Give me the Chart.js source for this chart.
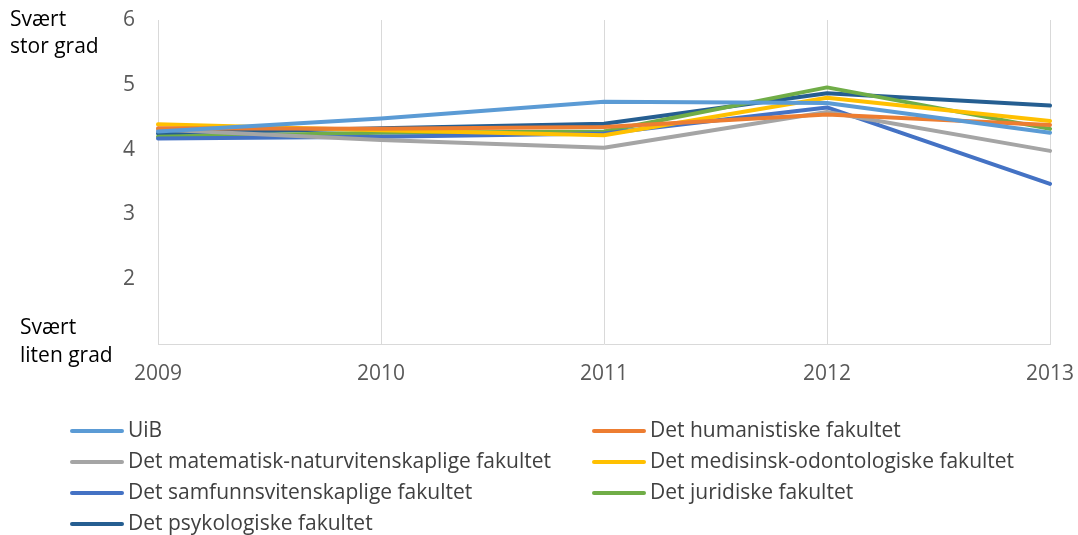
<!DOCTYPE html>
<html>
<head>
<meta charset="utf-8">
<script src="https://cdn.jsdelivr.net/npm/chart.js@4"></script>
<style>
  html, body { margin: 0; padding: 0; background: #fff; }
  #wrap { width: 1078px; height: 535px; position: relative; }
</style>
</head>
<body>
<div id="wrap"><canvas id="chart" width="1078" height="535"></canvas></div>
<script>
const years = ['2009', '2010', '2011', '2012', '2013'];
const yTicks = [1, 2, 3, 4, 5, 6];

const uib     = [4.28, 4.48, 4.74, 4.72, 4.26];
const hum     = [4.33, 4.32, 4.35, 4.54, 4.38];
const matnat  = [4.31, 4.15, 4.03, 4.58, 3.98];
const med     = [4.39, 4.30, 4.22, 4.80, 4.44];
const samf    = [4.17, 4.20, 4.25, 4.65, 3.47];
const jur     = [4.20, 4.26, 4.28, 4.96, 4.32];
const psyk    = [4.25, 4.33, 4.40, 4.87, 4.68];

const names = [
  'UiB',
  'Det humanistiske fakultet',
  'Det matematisk-naturvitenskaplige fakultet',
  'Det medisinsk-odontologiske fakultet',
  'Det samfunnsvitenskaplige fakultet',
  'Det juridiske fakultet',
  'Det psykologiske fakultet'
];
const colors = ['#5B9BD5', '#ED7D31', '#A5A5A5', '#FFC000', '#4472C4', '#70AD47', '#255E91'];
const series = [uib, hum, matnat, med, samf, jur, psyk];

Chart.defaults.font.family = '"Open Sans", sans-serif';

// two-column legend and the end labels of the y axis
const extras = {
  id: 'extras',
  afterDraw(chart) {
    const ctx = chart.ctx;
    ctx.save();
    ctx.font = '21px "Open Sans", sans-serif';
    ctx.textBaseline = 'middle';
    ctx.fillStyle = '#000';
    ctx.textAlign = 'left';
    ctx.fillText('Svært', 10, 20);
    ctx.fillText('stor grad', 10, 47);
    ctx.fillText('Svært', 20, 328);
    ctx.fillText('liten grad', 20, 356);

    const cols = [70, 592];
    chart.data.datasets.forEach((ds, i) => {
      const x = cols[i % 2];
      const y = 431 + Math.floor(i / 2) * 31;
      ctx.strokeStyle = ds.borderColor;
      ctx.lineWidth = 4;
      ctx.lineCap = 'round';
      ctx.beginPath();
      ctx.moveTo(x + 2, y);
      ctx.lineTo(x + 52, y);
      ctx.stroke();
      ctx.fillStyle = '#404040';
      ctx.fillText(ds.label, x + 58, y);
    });
    ctx.restore();
  }
};

new Chart(document.getElementById('chart'), {
  type: 'line',
  data: {
    labels: years,
    datasets: series.map((d, i) => ({
      label: names[i],
      data: d,
      borderColor: colors[i],
      backgroundColor: colors[i],
      borderWidth: 4,
      borderCapStyle: 'round',
      borderJoinStyle: 'round',
      pointRadius: 0,
      tension: 0
    }))
  },
  options: {
    responsive: false,
    animation: false,
    layout: { padding: { left: 0, right: 28, top: 20, bottom: 141 } },
    plugins: { legend: { display: false }, tooltip: { enabled: false } },
    scales: {
      x: {
        offset: false,
        grid: { color: '#D9D9D9', lineWidth: 1, drawTicks: false },
        border: { color: '#D9D9D9' },
        ticks: { color: '#595959', font: { size: 21 }, padding: 17, maxRotation: 0 },
        afterFit(scale) {
          scale.height = 50;
          scale.paddingLeft = 0;
          scale.paddingRight = 0;
        }
      },
      y: {
        min: 1,
        max: 6,
        afterBuildTicks(scale) { scale.ticks = yTicks.map(v => ({ value: v })); },
        grid: { display: false, drawTicks: false },
        border: { display: false },
        ticks: {
          color: '#595959',
          font: { size: 21 },
          padding: 23,
          callback: v => (v === 1 ? '' : v)
        },
        afterFit(scale) {
          scale.width = 158;
          scale.paddingTop = 0;
          scale.paddingBottom = 0;
        }
      }
    }
  },
  plugins: [extras]
});
</script>
</body>
</html>
